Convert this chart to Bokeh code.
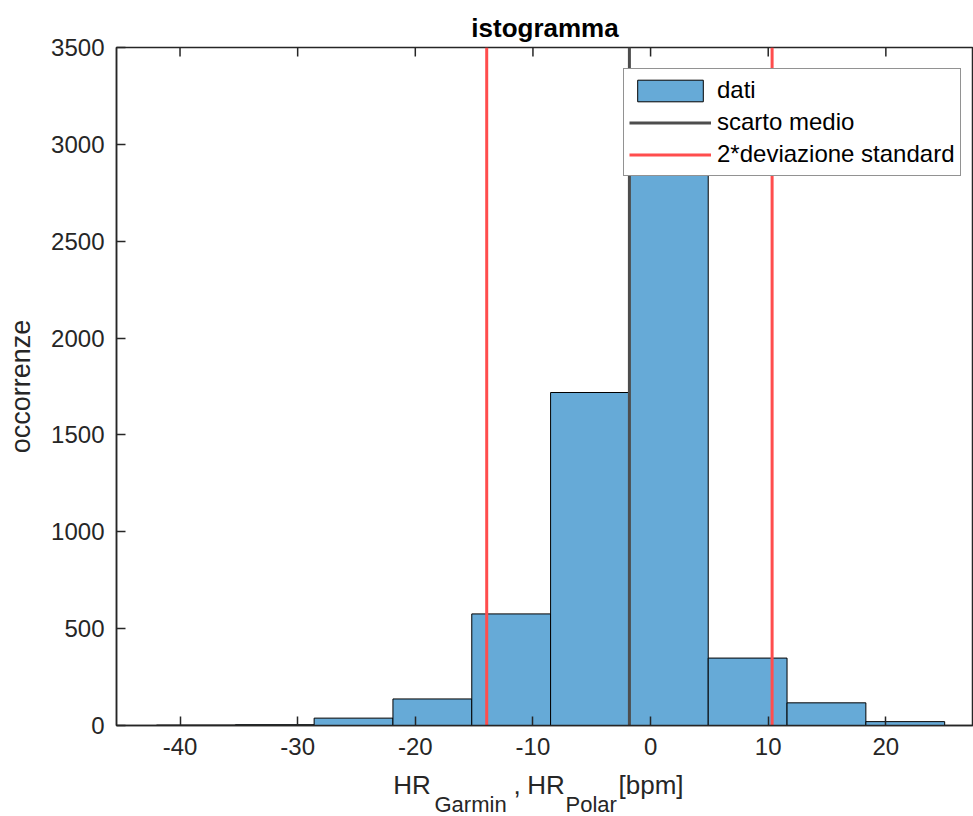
from bokeh.plotting import figure
from bokeh.layouts import column
from bokeh.models import Range1d, LinearAxis, FixedTicker, Legend, LegendItem, ColumnDataSource
from bokeh.core.properties import value
from bokeh.embed import file_html
from bokeh.resources import INLINE

# Histogram of HR differences (Garmin vs Polar)
bin_edges = [-42.0, -35.3, -28.6, -21.9, -15.2, -8.5, -1.8, 4.9, 11.6, 18.3, 25.0]
counts = [2, 4, 38, 137, 576, 1719, 3150, 348, 117, 20]
mean_diff = -1.8
std_diff = 6.065

x_ticks = [-40, -30, -20, -10, 0, 10, 20]
x_tick_labels = ["-40", "-30", "-20", "-10", "0", "10", "20"]
y_ticks = [0, 500, 1000, 1500, 2000, 2500, 3000, 3500]

FONT = "Liberation Sans"
AXIS_COLOR = "#262626"
BAR_COLOR = "#66AAD7"
MEAN_COLOR = "#4D4D4D"
SD_COLOR = "#FF4D4D"

W = 973
MAIN_H = 768
LABEL_H = 48
LEFT = 116

p = figure(width=W, height=MAIN_H, output_backend="svg", toolbar_location=None,
           x_range=Range1d(-45.4, 27.45), y_range=Range1d(0, 3500),
           x_axis_location=None, y_axis_location=None,
           min_border_left=LEFT, min_border_right=0, min_border_top=47,
           min_border_bottom=MAIN_H - 725)
p.grid.visible = False
p.outline_line_color = AXIS_COLOR
p.outline_line_width = 1.5
p.background_fill_color = "white"
p.border_fill_color = "white"

p.title.text = "istogramma"
p.title.align = "center"
p.title.text_font = FONT
p.title.text_font_size = "26px"
p.title.text_font_style = "bold"
p.title.text_color = "black"
p.title.offset = 5
p.title.standoff = 9


def style_axis(ax, ticks):
    ax.ticker = FixedTicker(ticks=ticks)
    ax.axis_line_color = AXIS_COLOR
    ax.axis_line_width = 1.5
    ax.major_tick_line_color = AXIS_COLOR
    ax.major_tick_line_width = 1.5
    ax.major_tick_in = 9
    ax.major_tick_out = 0
    ax.minor_tick_line_color = None
    ax.major_label_text_font = FONT
    ax.major_label_text_font_size = "24px"
    ax.major_label_text_color = "#262626"
    ax.major_label_standoff = 12


xaxis = LinearAxis()
style_axis(xaxis, x_ticks)
xaxis.major_label_overrides = {t: s for t, s in zip(x_ticks, x_tick_labels)}
p.add_layout(xaxis, "below")

yaxis = LinearAxis(axis_label="occorrenze")
style_axis(yaxis, y_ticks)
yaxis.axis_label_text_font = FONT
yaxis.axis_label_text_font_size = "27px"
yaxis.axis_label_text_font_style = "normal"
yaxis.axis_label_text_color = "#262626"
yaxis.axis_label_standoff = 12
p.add_layout(yaxis, "left")

bars = p.quad(left=bin_edges[:-1], right=bin_edges[1:], bottom=0, top=counts,
              fill_color=BAR_COLOR, line_color="black", line_width=1)

# top-edge tick marks (inward), drawn as short segments at the x tick positions
tick_len = 3500 * 9 / 678
p.segment(x0=x_ticks, y0=[3500] * len(x_ticks), x1=x_ticks,
          y1=[3500 - tick_len] * len(x_ticks), line_color=AXIS_COLOR, line_width=1.5)

mean_line = p.segment(x0=[mean_diff], y0=[0], x1=[mean_diff], y1=[3500],
                      line_color=MEAN_COLOR, line_width=3)
sd_lo = mean_diff - 2 * std_diff
sd_hi = mean_diff + 2 * std_diff
sd_lines = p.segment(x0=[sd_lo, sd_hi], y0=[0, 0], x1=[sd_lo, sd_hi], y1=[3500, 3500],
                     line_color=SD_COLOR, line_width=3)

legend = Legend(items=[LegendItem(label="dati", renderers=[bars]),
                       LegendItem(label="scarto medio", renderers=[mean_line]),
                       LegendItem(label="2*deviazione standard", renderers=[sd_lines])],
                location=(507, 549))
legend.label_text_font = FONT
legend.label_text_font_size = "24px"
legend.label_text_color = "black"
legend.glyph_width = 82
legend.glyph_height = 27
legend.label_height = 32
legend.spacing = 0
legend.padding = 5
legend.margin = 0
legend.label_standoff = 6
legend.border_line_color = AXIS_COLOR
legend.border_line_width = 1
legend.background_fill_alpha = 1
p.add_layout(legend, "center")

# x-axis label with subscripts, set in a strip under the axes;
# the strip's ranges are in page pixels so its frame lines up with the main frame
strip = figure(width=W, height=LABEL_H, output_backend="svg", toolbar_location=None,
               title=None, x_range=Range1d(LEFT, W), y_range=Range1d(MAIN_H + LABEL_H, MAIN_H),
               x_axis_location=None, y_axis_location=None,
               min_border_left=LEFT, min_border_right=0,
               min_border_top=0, min_border_bottom=0)
strip.grid.visible = False
strip.outline_line_color = None
strip.background_fill_color = "white"
strip.border_fill_color = "white"

label_src = ColumnDataSource(dict(
    text=["HR", ",", "HR", "[bpm]"],
    x=[392.7, 513, 526.7, 618],
    y=[784, 784, 784, 784],
))
sub_src = ColumnDataSource(dict(
    text=["Garmin", "Polar"],
    x=[434, 565],
    y=[803.5, 803.5],
))
strip.text(x="x", y="y", text="text", source=label_src, text_font=value(FONT),
           text_font_size="26px", text_color="#262626", text_align="left",
           text_baseline="alphabetic")
strip.text(x="x", y="y", text="text", source=sub_src, text_font=value(FONT),
           text_font_size="22px", text_color="#262626", text_align="left",
           text_baseline="alphabetic")

layout = column(p, strip, spacing=0)
open("out.html", "w").write(file_html(layout, INLINE))
